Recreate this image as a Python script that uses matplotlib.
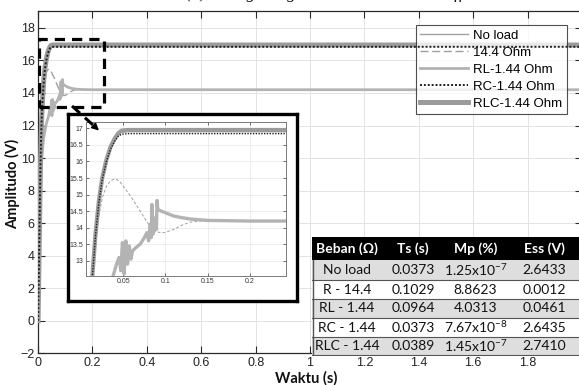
import matplotlib
matplotlib.use('Agg')
import matplotlib.pyplot as plt
from matplotlib.patches import Rectangle, FancyArrowPatch
from matplotlib.lines import Line2D

W, H = 579, 385

# ---------------- data ----------------
t_rise = [0, 0.004, 0.008, 0.011, 0.0133, 0.017, 0.021, 0.025, 0.03, 0.035,
          0.04, 0.044, 0.048, 0.055, 0.1, 0.5, 1.0, 1.5, 2.0]
v_noload = [0, 4.5, 9.0, 11.3, 12.55, 13.8, 14.8, 15.5, 16.0, 16.4,
            16.65, 16.8, 16.88, 16.9, 16.9, 16.9, 16.9, 16.9, 16.9]
v_rlc = [0, 4.5, 9.0, 11.3, 12.55, 13.8, 14.8, 15.5, 16.05, 16.45,
         16.7, 16.85, 16.93, 16.95, 16.95, 16.95, 16.95, 16.95, 16.95]
v_rc = [0, 4.4, 8.9, 11.2, 12.5, 13.75, 14.75, 15.45, 16.0, 16.38,
        16.62, 16.76, 16.82, 16.84, 16.84, 16.84, 16.84, 16.84, 16.84]

t_r144 = [0, 0.005, 0.01, 0.0133, 0.02, 0.025, 0.03, 0.035, 0.04, 0.045,
          0.05, 0.06, 0.07, 0.08, 0.09, 0.095, 0.1, 0.11, 0.12, 0.13,
          0.14, 0.5, 1.0, 1.5, 2.0]
v_r144 = [0, 5.0, 10.0, 12.4, 14.2, 14.9, 15.25, 15.42, 15.47, 15.42,
          15.25, 14.9, 14.5, 14.1, 13.88, 13.84, 13.86, 13.95, 14.08, 14.17,
          14.2, 14.2, 14.2, 14.2, 14.2]

t_rl = [0, 0.005, 0.01, 0.013, 0.02, 0.03, 0.038, 0.042, 0.045, 0.047,
        0.049, 0.051, 0.053, 0.055, 0.057, 0.059, 0.061, 0.065, 0.07, 0.075,
        0.078, 0.08, 0.082, 0.083, 0.084, 0.085, 0.086, 0.087, 0.088, 0.0893,
        0.09, 0.091, 0.095, 0.1, 0.11, 0.12, 0.13, 0.15, 0.2, 0.5, 1.0, 1.5, 2.0]
v_rl = [0, 5.0, 8.5, 10.0, 11.2, 12.1, 12.55, 12.9, 13.1, 12.7,
        13.55, 12.6, 13.6, 12.9, 13.45, 13.05, 13.3, 13.4, 13.5, 13.7,
        13.85, 13.6, 14.1, 13.7, 14.7, 13.8, 14.3, 13.9, 14.2, 13.95,
        14.82, 14.55, 14.5, 14.45, 14.35, 14.3, 14.26, 14.22, 14.2, 14.2, 14.2, 14.2, 14.2]

legend_labels = ['No load', '14.4 Ohm', 'RL-1.44 Ohm', 'RC-1.44 Ohm', 'RLC-1.44 Ohm']

main_xticks = [0, 0.2, 0.4, 0.6, 0.8, 1.0, 1.2, 1.4, 1.6, 1.8, 2.0]
main_xticklabels = ['0', '0.2', '0.4', '0.6', '0.8', '1', '1.2', '1.4', '1.6', '1.8', '2']
main_yticks = [-2, 0, 2, 4, 6, 8, 10, 12, 14, 16, 18]
inset_xticks = [0.05, 0.1, 0.15, 0.2]
inset_xticklabels = ['0.05', '0.1', '0.15', '0.2']
inset_yticks = [13, 13.5, 14, 14.5, 15, 15.5, 16, 16.5, 17]
inset_yticklabels = ['13', '13.5', '14', '14.5', '15', '15.5', '16', '16.5', '17']

table_header = ['Beban (Ω)', 'Ts (s)', 'Mp (%)', 'Ess (V)']
table_beban = ['No load', 'R - 14.4', 'RL - 1.44', 'RC - 1.44', 'RLC - 1.44']
table_ts = ['0.0373', '0.1029', '0.0964', '0.0373', '0.0389']
table_mp = [r'1.25x10$^{-7}$', '8.8623', '4.0313', r'7.67x10$^{-8}$', r'1.45x10$^{-7}$']
table_ess = ['2.6433', '0.0012', '0.0461', '2.6435', '2.7410']

# ---------------- style ----------------
plt.rcParams['font.family'] = ['Liberation Sans', 'DejaVu Sans']
plt.rcParams['mathtext.fontset'] = 'custom'
plt.rcParams['mathtext.rm'] = 'Lato'
plt.rcParams['mathtext.it'] = 'Lato:italic'
plt.rcParams['mathtext.bf'] = 'Lato:bold'

C_NOLOAD = '#a2a2a2'
C_R144 = '#a0a0a0'
C_RL = '#b3b3b3'
C_RC = '#202020'
C_RLC = '#9b9b9b'
SPINE = '#2a2a2a'

def px(x0, y0, x1, y1):
    return [x0 / W, 1 - y1 / H, (x1 - x0) / W, (y1 - y0) / H]

fig = plt.figure(figsize=(W / 100, H / 100), dpi=100)

# ---------------- main axes ----------------
ax = fig.add_axes(px(38.1, 11, 582, 353.3))
l1, = ax.plot(t_rise, v_noload, color=C_NOLOAD, lw=1.0, zorder=3)
l2, = ax.plot(t_r144, v_r144, color=C_R144, lw=1.0, ls=(0, (5.8, 2.6)), zorder=3)
l3, = ax.plot(t_rl, v_rl, color=C_RL, lw=2.0, zorder=4)
l5, = ax.plot(t_rise, v_rlc, color=C_RLC, lw=3.6, zorder=5)
l4, = ax.plot(t_rise, v_rc, color=C_RC, lw=1.4, ls=(0, (1, 1)), zorder=6)

ax.set_xlim(0, 2)
ax.set_ylim(-2, 19.04)
ax.set_xticks(main_xticks)
ax.set_xticklabels(main_xticklabels)
ax.set_yticks(main_yticks)
ax.tick_params(direction='in', length=5, width=0.8, color=SPINE, labelsize=9,
               labelcolor='#222222', top=True, right=True, pad=2.5)
ax.grid(True, color='#e3e3e3', lw=0.7)
ax.set_axisbelow(True)
for s in ax.spines.values():
    s.set_color(SPINE)
    s.set_linewidth(0.9)

leg = ax.legend([l1, l2, l3, l4, l5], legend_labels, loc='upper right',
                bbox_to_anchor=(0.9724, 0.959), borderaxespad=0, fontsize=9.5,
                frameon=True, fancybox=False, edgecolor='#222222',
                handlelength=3.6, handletextpad=0.4, labelspacing=0.36,
                borderpad=0.35)
leg.get_frame().set_linewidth(0.8)

# dashed zoom rectangle
ax.add_patch(Rectangle((0.005, 13.15), 0.237, 4.15, fill=False, ec='black',
                       lw=2.3, ls=(0, (3.2, 2.2)), zorder=7))

# ---------------- inset frame ----------------
frame = fig.add_axes(px(68.3, 113.5, 296.7, 301))
frame.set_xticks([]); frame.set_yticks([])
frame.set_facecolor('white')
for s in frame.spines.values():
    s.set_linewidth(2.4)
    s.set_color('black')
frame.set_zorder(5)

# ---------------- inset axes ----------------
ins = fig.add_axes(px(85.7, 121.7, 286, 275.7))
ins.set_zorder(6)
ins.plot(t_rise, v_noload, color=C_NOLOAD, lw=1.0, zorder=3)
ins.plot(t_r144, v_r144, color=C_R144, lw=0.7, ls=(0, (3, 2)), zorder=3)
ins.plot(t_rl, v_rl, color=C_RL, lw=2.4, zorder=4)
ins.plot(t_rise, v_rlc, color=C_RLC, lw=3.0, zorder=5)
ins.plot(t_rise, v_rc, color=C_RC, lw=1.0, ls=(0, (1, 1)), zorder=6)
ins.set_xlim(0.0054, 0.243)
ins.set_ylim(12.55, 17.2)
ins.set_xticks(inset_xticks)
ins.set_xticklabels(inset_xticklabels)
ins.set_yticks(inset_yticks)
ins.set_yticklabels(inset_yticklabels)
ins.tick_params(direction='in', length=2.5, width=0.6, color='#555555',
                labelsize=5, labelcolor='#333333', top=True, right=True, pad=2)
ins.grid(True, color='#e6e6e6', lw=0.5)
ins.set_axisbelow(True)
for s in ins.spines.values():
    s.set_color('#7a7a7a')
    s.set_linewidth(0.7)

# ---------------- arrow ----------------
fig.add_artist(Line2D([72 / W, 93 / W], [1 - 106 / H, 1 - 125 / H], color='black',
                      lw=2.2, ls=(0, (3.5, 2.2)), transform=fig.transFigure, zorder=20))
fig.add_artist(FancyArrowPatch((92 / W, 1 - 124 / H), (101 / W, 1 - 132.5 / H),
                               transform=fig.transFigure, arrowstyle='-|>',
                               mutation_scale=10, color='black', lw=1.2, zorder=21))

# ---------------- table ----------------
tab = fig.add_axes(px(311.5, 236.5, 582, 355.5))
tab.set_zorder(8)
tab.set_xlim(311.5, 582)
tab.set_ylim(355.5, 236.5)
tab.axis('off')
col_edges = [312, 382, 444, 507, 582]
row_edges = [237, 260, 279.5, 298.5, 317.5, 336.5, 355]
tab.add_patch(Rectangle((312, 237), 270, 23, fc='black', ec='black', lw=0))
tfont = dict(family=['Lato', 'DejaVu Sans'], fontsize=10)
for j, h in enumerate(table_header):
    cx = (col_edges[j] + col_edges[j + 1]) / 2
    tab.text(cx, 249, h, ha='center', va='center', color='white',
             fontweight='bold', **tfont)
columns = [table_beban, table_ts, table_mp, table_ess]
for i in range(len(table_beban)):
    y0, y1 = row_edges[i + 1], row_edges[i + 2]
    fc = '#dedede' if i % 2 == 0 else 'white'
    tab.add_patch(Rectangle((312, y0), 270, y1 - y0, fc=fc, ec='none'))
    tab.plot([312, 582], [y1, y1], color='#555555', lw=0.8)
    for j, col in enumerate(columns):
        cx = (col_edges[j] + col_edges[j + 1]) / 2
        tab.text(cx, (y0 + y1) / 2 + 0.5, col[i], ha='center', va='center',
                 color='#111111', **tfont)
tab.plot([312.5, 312.5], [260, 355], color='#555555', lw=1.0)

# ---------------- labels ----------------
lfont = dict(family=['Lato', 'DejaVu Sans'], fontsize=10.5, fontweight='bold',
             color='#111111')
fig.text(306 / W, 1 - 378 / H, 'Waktu (s)', ha='center', va='center', **lfont)
fig.text(12.5 / W, 1 - 184 / H, 'Amplitudo (V)', ha='center', va='center',
         rotation=90, **lfont)

# partially visible title at the very top (cut off in the original as well)
fig.text(335 / W, 1 + 1.5 / H, '(a) Voltage targets with various load effect',
         ha='center', va='baseline', fontsize=12.5, style='italic',
         family=['Liberation Serif', 'DejaVu Serif'], color='#111111')

fig.savefig('out.png', dpi=100)
